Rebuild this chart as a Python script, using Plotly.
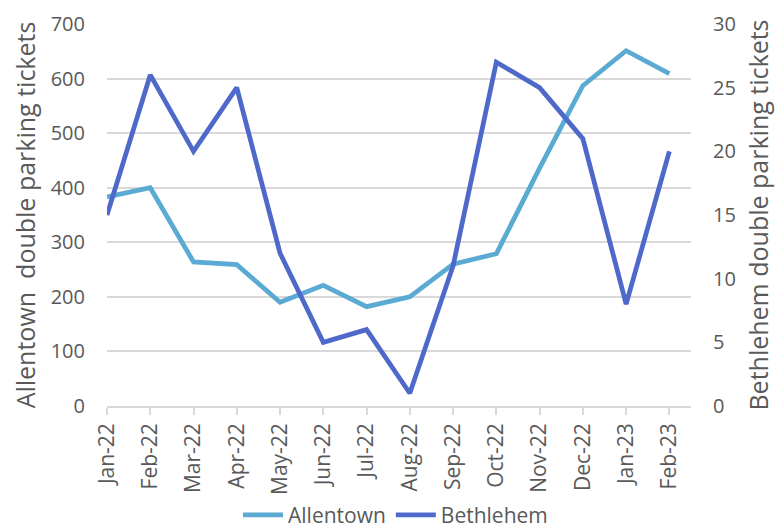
import plotly.graph_objects as go

months = ["Jan-22", "Feb-22", "Mar-22", "Apr-22", "May-22", "Jun-22", "Jul-22",
          "Aug-22", "Sep-22", "Oct-22", "Nov-22", "Dec-22", "Jan-23", "Feb-23"]
allentown = [383, 400, 264, 259, 190, 221, 182, 200, 260, 279, 436, 587, 651, 609]
bethlehem = [15, 26, 20, 25, 12, 5, 6, 1, 11, 27, 25, 21, 8, 20]

FONT = "Open Sans, sans-serif"
GREY = "#595959"
GRID = "#D9D9D9"

fig = go.Figure()
fig.add_trace(go.Scatter(x=months, y=allentown, name="Allentown", mode="lines",
                         line=dict(color="#5AAAD3", width=4.75), yaxis="y"))
fig.add_trace(go.Scatter(x=months, y=bethlehem, name="Bethlehem", mode="lines",
                         line=dict(color="#4E69C9", width=4.75), yaxis="y2"))

fig.update_layout(
    width=775, height=523,
    margin=dict(l=99, r=92, t=16, b=125),
    paper_bgcolor="white", plot_bgcolor="white",
    font=dict(family=FONT, size=19, color=GREY),
    showlegend=True,
    legend=dict(orientation="h", x=0.5, xanchor="center", xref="container",
                y=0.03, yanchor="middle", yref="container",
                font=dict(size=21, color=GREY), itemwidth=40),
    xaxis=dict(type="category", range=[0, 13.5], showgrid=False, automargin=False,
               tickangle=-90, ticks="outside", ticklen=7, tickcolor=GRID, tickwidth=1.5,
               showline=True, linecolor=GRID, linewidth=1.5,
               tickfont=dict(size=21, color=GREY)),
    yaxis=dict(range=[0, 700], dtick=100, showgrid=True, gridcolor=GRID, gridwidth=1.5,
               zeroline=False, showline=False, ticks="", automargin=False, ticklabelstandoff=21,
               tickfont=dict(size=20, color=GREY),
               title=dict(text="Allentown  double parking tickets", font=dict(size=25, color=GREY), standoff=9)),
    yaxis2=dict(range=[0, 30], dtick=5, overlaying="y", side="right", showgrid=False,
                zeroline=False, showline=False, ticks="", automargin=False, ticklabelstandoff=21,
                tickfont=dict(size=20, color=GREY),
                title=dict(text="Bethlehem double parking tickets", font=dict(size=25, color=GREY), standoff=15)),
)

fig.write_html("out.html")
